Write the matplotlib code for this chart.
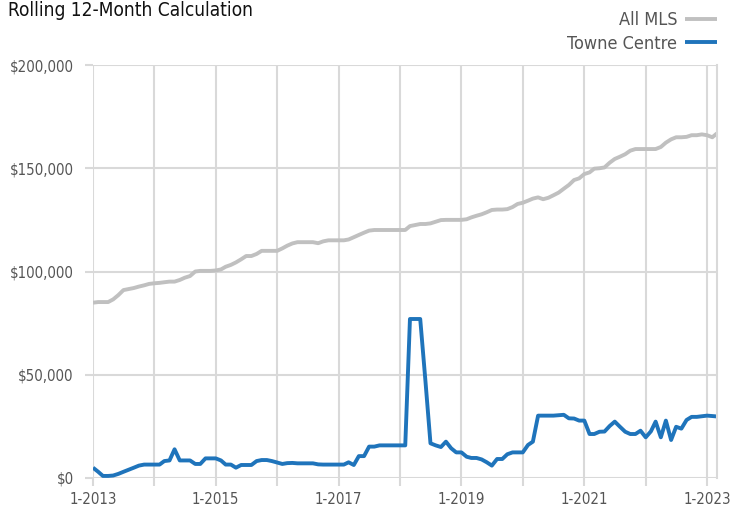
import matplotlib
matplotlib.use("Agg")
import matplotlib.pyplot as plt
import pandas as pd
from matplotlib import font_manager

# ── Data (thousands of $, monthly from 1-2013 to 3-2023) ─────────────────────
all_mls = [
    84.9, 85.2, 85.2, 85.2, 86.5, 88.6, 91.0, 91.5, 92.0, 92.7, 93.3, 94.0,
    94.3, 94.5, 94.8, 95.1, 95.1, 95.9, 97.0, 97.8, 100.0, 100.3, 100.3, 100.3,
    100.5, 101.0, 102.3, 103.2, 104.4, 105.9, 107.5, 107.5, 108.5, 110.0, 110.0, 110.0,
    110.0, 111.2, 112.5, 113.6, 114.2, 114.2, 114.2, 114.2, 113.7, 114.6, 115.1, 115.1,
    115.1, 115.1, 115.5, 116.6, 117.7, 118.8, 119.8, 120.1, 120.1, 120.1, 120.1, 120.1,
    120.1, 120.1, 122.0, 122.5, 123.0, 123.0, 123.3, 124.1, 124.9, 125.0, 125.0, 125.0,
    125.0, 125.3, 126.2, 127.0, 127.7, 128.7, 129.8, 130.0, 130.0, 130.2, 131.2, 132.7,
    133.3, 134.3, 135.3, 135.9, 135.0, 135.7, 136.9, 138.2, 140.1, 141.9, 144.3, 145.1,
    147.2, 148.0, 149.8, 150.0, 150.4, 152.7, 154.5, 155.6, 156.8, 158.5, 159.3, 159.3,
    159.3, 159.3, 159.3, 160.3, 162.4, 164.0, 165.0, 165.0, 165.2, 166.0, 166.0, 166.4,
    166.0, 165.0, 166.9,
]
towne_centre = [
    5.0, 3.0, 1.0, 1.0, 1.2, 2.0, 3.0, 4.0, 5.0, 6.0, 6.5, 6.5,
    6.5, 6.5, 8.2, 8.5, 13.9, 8.5, 8.5, 8.5, 6.8, 6.8, 9.5, 9.5,
    9.5, 8.5, 6.5, 6.5, 5.0, 6.3, 6.3, 6.3, 8.2, 8.7, 8.7, 8.2,
    7.5, 6.8, 7.2, 7.3, 7.1, 7.1, 7.1, 7.1, 6.6, 6.5, 6.5, 6.5,
    6.5, 6.5, 7.6, 6.3, 10.6, 10.6, 15.2, 15.2, 15.8, 15.8, 15.8, 15.8,
    15.8, 15.8, 77.0, 77.0, 77.0, 47.0, 16.8, 15.8, 15.0, 17.6, 14.4, 12.4,
    12.4, 10.3, 9.7, 9.7, 9.0, 7.6, 6.0, 9.2, 9.2, 11.5, 12.4, 12.4,
    12.4, 16.0, 17.6, 30.2, 30.2, 30.2, 30.2, 30.4, 30.6, 28.9, 28.8, 27.8,
    27.8, 21.3, 21.3, 22.4, 22.5, 25.2, 27.3, 24.8, 22.4, 21.3, 21.3, 22.9,
    19.7, 22.6, 27.3, 19.7, 27.8, 18.4, 24.8, 23.9, 28.1, 29.6, 29.6, 29.9,
    30.2, 30.0, 29.8,
]
start_month = "2013-01-01"
tick_years = list(range(2013, 2024))
y_ticks = [0, 50000, 100000, 150000, 200000]

dates = pd.date_range(start_month, periods=len(all_mls), freq="MS")
mls_vals = [v * 1000 for v in all_mls]
tc_vals = [v * 1000 for v in towne_centre]

# ── Fonts: prefer a narrow sans, like the original's condensed face ─────────
font_path = None
for want in ["LiberationSansNarrow-Regular", "DejaVuSansCondensed.ttf", "Roboto-Regular"]:
    for f in font_manager.fontManager.ttflist:
        if want in f.fname:
            font_path = f.fname
            break
    if font_path:
        break

if font_path:
    fp = font_manager.FontProperties(fname=font_path)
else:
    fp = font_manager.FontProperties(family="DejaVu Sans")


def fprop(size):
    p = fp.copy()
    p.set_size(size)
    return p


GRID = "#d9d9d9"
GRAY = "#c0c0c0"
BLUE = "#1f74bb"
TXT = "#555555"

fig = plt.figure(figsize=(7.30, 5.12), dpi=100)
ax = fig.add_axes([93 / 730, 1 - 478 / 512, (717 - 93) / 730, (478 - 65) / 512])

ax.plot(dates, mls_vals, color=GRAY, lw=2.8, label="All MLS",
        solid_joinstyle="round", solid_capstyle="butt")
ax.plot(dates, tc_vals, color=BLUE, lw=2.8, label="Towne Centre",
        solid_joinstyle="round", solid_capstyle="butt")

ax.set_xlim(dates[0], dates[-1])
ax.set_ylim(0, 200000)

xt = [pd.Timestamp(f"{y}-01-01") for y in tick_years]
ax.set_xticks(xt)
ax.set_xticklabels([f"1-{y}" if (y - 2013) % 2 == 0 else "" for y in tick_years],
                   fontproperties=fprop(10.8))
ax.set_yticks(y_ticks)
ax.set_yticklabels([f"${v:,.0f}" for v in y_ticks], fontproperties=fprop(10.8))

ax.grid(True, color=GRID, lw=1.5)
ax.set_axisbelow(True)
for s in ["top", "left", "bottom"]:
    ax.spines[s].set_visible(False)
ax.spines["right"].set_color(GRID)
ax.spines["right"].set_linewidth(1.5)
ax.tick_params(axis="both", colors=GRID, length=6, width=1.5, labelcolor=TXT)
ax.tick_params(axis="x", pad=4)
ax.tick_params(axis="y", pad=8)

fig.text(8 / 730, 1 - 10 / 512, "Rolling 12-Month Calculation",
         fontproperties=fprop(13.7), color="#111111", ha="left", va="center")

leg = ax.legend(loc="lower right", bbox_to_anchor=(1.0, 1.03),
                markerfirst=False, frameon=False, prop=fprop(13),
                handlelength=1.75, handletextpad=0.45, labelspacing=0.3,
                borderaxespad=0.0, borderpad=0.0)
for t in leg.get_texts():
    t.set_color(TXT)

fig.savefig("out.png", dpi=100)
